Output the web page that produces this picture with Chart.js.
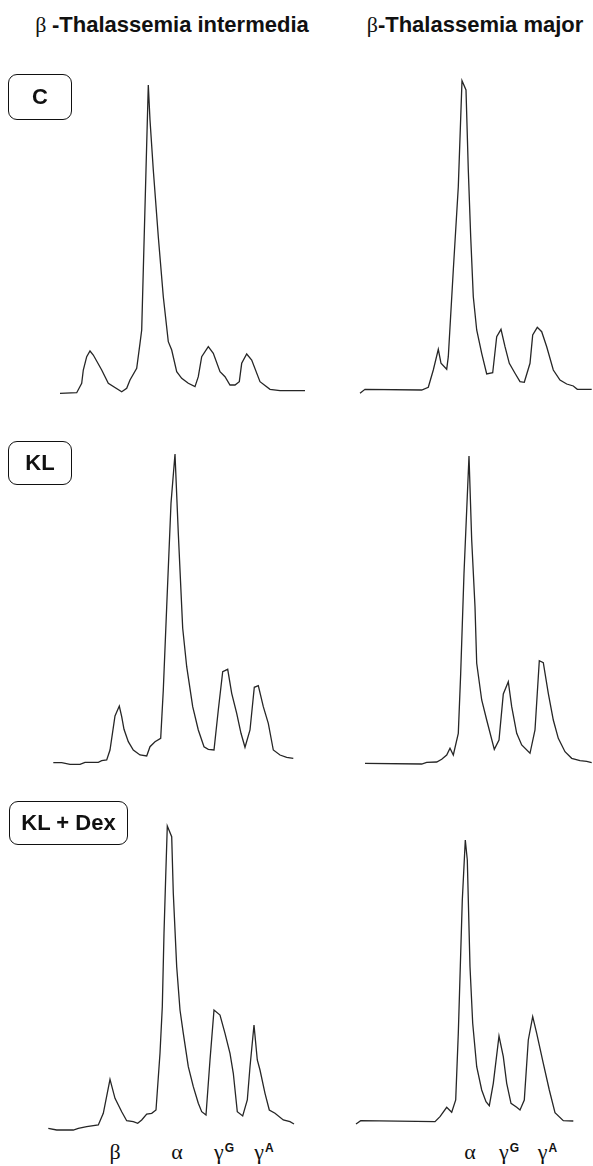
<!DOCTYPE html>
<html><head><meta charset="utf-8">
<script src="https://cdn.jsdelivr.net/npm/chart.js@4/dist/chart.umd.min.js"></script>
<style>
body{margin:0;background:#fff;width:593px;height:1166px;position:relative;overflow:hidden;font-family:"Liberation Sans",Arial,sans-serif;color:#111;}
.hdr{position:absolute;top:14px;font-weight:bold;font-size:22px;line-height:22px;white-space:nowrap;transform:translateX(-50%);}
.gr{font-family:"Liberation Serif","DejaVu Serif",serif;font-weight:normal;}
.box{position:absolute;border:1.6px solid #111;border-radius:9px;box-sizing:border-box;display:flex;align-items:center;justify-content:center;font-weight:bold;font-size:22px;white-space:nowrap;}
canvas{position:absolute;}
.pk{position:absolute;top:1141px;font-family:"Liberation Serif","DejaVu Serif",serif;font-size:22px;line-height:22px;transform:translateX(-50%);white-space:nowrap;}
.pk .sp{font-family:"Liberation Sans",Arial,sans-serif;font-weight:bold;font-size:12px;position:relative;top:-7px;margin-left:1px;}
</style>
</head>
<body>
<canvas id="c0" width="270" height="330" style="left:40px;top:70px"></canvas>
<canvas id="c1" width="243" height="330" style="left:350px;top:70px"></canvas>
<canvas id="c2" width="270" height="330" style="left:40px;top:440px"></canvas>
<canvas id="c3" width="243" height="330" style="left:350px;top:440px"></canvas>
<canvas id="c4" width="270" height="335" style="left:40px;top:800px"></canvas>
<canvas id="c5" width="243" height="335" style="left:350px;top:800px"></canvas>
<script>
// Column headers and treatment labels
const columnGreek = ["β ", "β"];
const columnTitles = ["-Thalassemia intermedia", "-Thalassemia major"];
const treatments = ["C", "KL", "KL + Dex"];

// Peak labels (globin chains) and their elution positions
const peaksIntermedia = ["β", "α", "γ|G", "γ|A"];
const peakPosIntermedia = [75, 137, 184, 224];
const peaksMajor = ["α", "γ|G", "γ|A"];
const peakPosMajor = [120, 159, 197.5];

// β-thalassemia intermedia, control
const intC_pos = [20,36.7,41.7,43.3,46.7,50,53.3,61.7,68.3,81.7,86.7,90,96.7,100,101.7,103.3,106,108.3,110,113.3,118.3,123.3,128.3,131.7,136.7,141.7,148.3,155,158.3,161.7,168.3,173.3,180,185,190,195,199.3,201.7,206.7,211.7,220,230,240,265];
const intC_sig = [6.7,7.3,16.7,30,43.3,49,45,30,16.7,8.3,11.7,20,31.7,56.7,70,130,230,315,280,230,163.3,103.3,58.3,50,28.3,21.7,16.7,13.3,23.3,43.3,53.3,46.7,28.3,23.3,15,15,18.3,36.7,46,40,18.3,10.7,9.3,9.3];

// β-thalassemia major, control
const majC_pos = [10,15,71.7,78.3,83.3,88.3,91,96.7,98.3,103.3,108.3,112,116,118.3,120.7,123.3,126.7,131.7,136.7,142.7,146.7,151,155,159.3,165,170,174.3,180,182.7,187.3,191.7,196.7,203.3,210,216.7,223.3,227.3,241.7];
const majC_sig = [6.7,10.7,10,12.7,30,50.7,36.7,30.7,43.3,130,213.3,319.3,310,230,163.3,103.3,70,46.7,26,27.3,63.3,70.7,53.3,36.7,26.7,18.3,17.7,36.7,65,72.7,68.3,53.3,30,20,16,14,10.7,10.7];

// β-thalassemia intermedia, KL
const intKL_pos = [13.3,21.7,30,40,45,58.3,61.7,66.7,70,75,79.3,81.7,84,88.3,93.3,100,106.7,110,115,120.7,123.3,126.7,131,135,138.3,142.7,146.7,152.7,158.3,164,168.3,174,178.3,182.7,187.7,191.7,196.7,201,205,210,214.3,218.3,223.3,228.3,233.3,240,246.7,253.3];
const intKL_sig = [7.3,7.3,5.7,5.7,7.7,7.7,9.3,10,20,54,64,53.3,40.7,28.3,20,15,14,23.3,28.3,31.7,80,163.3,266.7,316,236.7,141.7,103.3,63.3,40,23.3,20.7,20,60,98.3,100.7,76.7,56.7,36.7,22.7,40,82.7,84.3,63.3,46.7,20,15,12.7,11.7];

// β-thalassemia major, KL
const majKL_pos = [15,71.7,76.7,86.7,91.7,96.7,100,103.3,108.3,110.7,114,119,121.7,125,126.7,131.7,136.7,144.3,149,153.3,158.3,161.7,166.7,171.7,180,185,189.3,193.3,198.3,203.3,208.3,215,221.7,230,236.7,241.7];
const majKL_sig = [6.7,6,7.7,8,10.7,15,21.7,15,36.7,96.7,196.7,314,230,163.3,106.7,70,50,20.7,30,76,88.3,63.3,36.7,25,16.7,40,109.3,107.3,76.7,50,31.7,18.3,11.7,9.3,8.7,7.3];

// β-thalassemia intermedia, KL + Dex
const intKD_pos = [8.3,16.7,33.3,38.3,46.7,58.3,63.3,70,75,81.7,86.7,93.3,97.7,101.7,106.7,111.7,116,120,122.3,124,125.7,127.3,131.7,133.3,136.7,140,143.3,148.3,153.3,158.3,161.7,166,170,174,180,185,190,193.3,197.3,202.7,207.3,210,214,217.3,220,225,229.3,235,243.3,250,254];
const intKD_sig = [6.7,5,5,6.7,8.3,10,21.7,55.7,36.7,23.3,14.3,13.3,11.7,15,21,21.7,25,81.7,128.3,201.7,258.3,309,298.3,241.7,168.3,125,101.7,68.3,48.3,31.7,23.3,20,75,125,120,101.7,81.7,61.7,23.3,19,35,68.3,110,75,65,41.7,25,21.7,15,13.3,11];

// β-thalassemia major, KL + Dex
const majKD_pos = [6,10.7,85,90,96.7,101.7,105.7,108.3,112.3,115.3,117.3,120,122.7,126.7,131.7,136,139.3,143.3,149,153.3,156.7,161,166.7,170,174.3,178.3,182.7,186.7,193.3,199.3,205,213.3,223.3];
const majKD_sig = [11,14.3,13.3,18.3,27.7,22.7,35,101.7,235,295,275,168.3,111.7,68.3,45,33.3,29.3,51.7,99,78.3,51.7,31.7,27.7,25,35,95,118.3,101.7,71.7,45,22.3,14.3,14];

const panels = [
  {id:'c0', pos:intC_pos, sig:intC_sig},
  {id:'c1', pos:majC_pos, sig:majC_sig},
  {id:'c2', pos:intKL_pos, sig:intKL_sig},
  {id:'c3', pos:majKL_pos, sig:majKL_sig},
  {id:'c4', pos:intKD_pos, sig:intKD_sig},
  {id:'c5', pos:majKD_pos, sig:majKD_sig}
];

const charts = panels.map(p => {
  const cv = document.getElementById(p.id);
  return new Chart(cv, {
    type: 'scatter',
    data: { datasets: [{
      data: p.pos.map((x, i) => ({x: x, y: p.sig[i]})),
      showLine: true, borderColor: '#262626', borderWidth: 1.3,
      pointRadius: 0, tension: 0, clip: false
    }]},
    options: {
      responsive: false, animation: false, events: [],
      layout: {padding: 0},
      plugins: {legend: {display: false}, tooltip: {enabled: false}},
      scales: {
        x: {type: 'linear', display: false, min: 0, max: cv.width},
        y: {type: 'linear', display: false, min: 0, max: cv.height}
      }
    }
  });
});

// Headers
const hdrCenters = [172, 475];
columnTitles.forEach((t, i) => {
  const d = document.createElement('div');
  d.className = 'hdr';
  d.style.left = hdrCenters[i] + 'px';
  const g = document.createElement('span'); g.className = 'gr'; g.textContent = columnGreek[i];
  const s = document.createElement('span'); s.textContent = t;
  d.appendChild(g); d.appendChild(s);
  document.body.appendChild(d);
});

// Treatment boxes
const boxGeom = [[8,74,64,46],[8,441,64,44],[9,801,119,44]];
treatments.forEach((t, i) => {
  const b = document.createElement('div');
  b.className = 'box';
  const g = boxGeom[i];
  b.style.left = g[0]+'px'; b.style.top = g[1]+'px'; b.style.width = g[2]+'px'; b.style.height = g[3]+'px';
  b.textContent = t;
  document.body.appendChild(b);
});

// Peak labels placed through the bottom charts' x scales
function addPeaks(chart, names, positions) {
  const cv = chart.canvas;
  const off = parseFloat(cv.style.left);
  names.forEach((n, i) => {
    const d = document.createElement('div');
    d.className = 'pk';
    d.style.left = (off + chart.scales.x.getPixelForValue(positions[i])) + 'px';
    const parts = n.split('|');
    const g = document.createElement('span'); g.textContent = parts[0]; d.appendChild(g);
    if (parts[1]) { const s = document.createElement('span'); s.className = 'sp'; s.textContent = parts[1]; d.appendChild(s); }
    document.body.appendChild(d);
  });
}
addPeaks(charts[4], peaksIntermedia, peakPosIntermedia);
addPeaks(charts[5], peaksMajor, peakPosMajor);
</script>
</body></html>
